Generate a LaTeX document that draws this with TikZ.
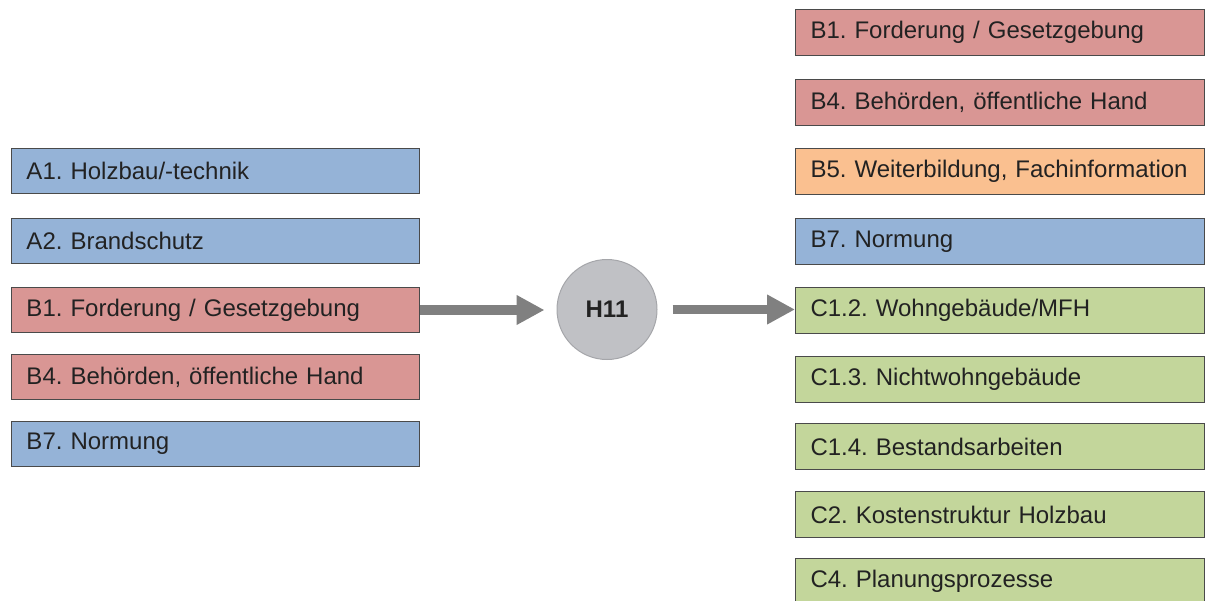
\documentclass[tikz,border=0pt]{standalone}
\usepackage{fontspec}
\setmainfont{Liberation Sans}
\usetikzlibrary{arrows.meta}
\frenchspacing
\definecolor{cblue}{HTML}{95B3D7}
\definecolor{cred}{HTML}{D99694}
\definecolor{corange}{HTML}{FAC090}
\definecolor{cgreen}{HTML}{C3D69B}
\definecolor{cborder}{HTML}{4A4A4A}
\definecolor{ctext}{HTML}{222222}
\definecolor{ccircle}{HTML}{C0C1C5}
\definecolor{ccircleb}{HTML}{A5A6AA}
\definecolor{carrow}{HTML}{808080}
\tikzset{
  box/.style={draw=cborder, line width=1pt, anchor=north west,
    text width=378pt, align=left, inner xsep=15pt, inner ysep=0pt,
    minimum height=45pt, font=\fontsize{24pt}{27pt}\selectfont, text=ctext},
  bluebox/.style={box, fill=cblue},
  redbox/.style={box, fill=cred},
  orangebox/.style={box, fill=corange},
  greenbox/.style={box, fill=cgreen},
  hub/.style={circle, draw=ccircleb, line width=1pt, fill=ccircle,
    minimum size=100pt, inner sep=0pt, font=\fontsize{24pt}{27pt}\selectfont\bfseries, text=ctext},
  flow/.style={draw=carrow, line width=9.5pt, -{Triangle[length=28pt,width=28pt]}}
}
\begin{document}
\begin{tikzpicture}[x=1pt,y=-1pt]
\useasboundingbox (0,0) rectangle (1205,600);
% left column
\node[bluebox] (a1) at (11,148) {A1. Holzbau/-technik};
\node[bluebox] (a2) at (11,218) {A2. Brandschutz};
\node[redbox]  (b1l) at (11,287) {B1. Forderung / Gesetzgebung};
\node[redbox]  (b4l) at (11,354) {B4. Behörden, öffentliche Hand};
\node[bluebox] (b7l) at (11,421) {B7. Normung};
% hub
\node[hub] (h) at (607,309.5) {H11};
% right column
\tikzset{rbox/.style={minimum height=46pt, text width=379pt}}
\node[redbox,rbox]    (b1r) at (795,9)   {B1. Forderung / Gesetzgebung};
\node[redbox,rbox]    (b4r) at (795,79)  {B4. Behörden, öffentliche Hand};
\node[orangebox,rbox] (b5r) at (795,148) {B5. Weiterbildung, Fachinformation};
\node[bluebox,rbox]   (b7r) at (795,218) {B7. Normung};
\node[greenbox,rbox]  (c12) at (795,287) {C1.2. Wohngebäude/MFH};
\node[greenbox,rbox]  (c13) at (795,356) {C1.3. Nichtwohngebäude};
\node[greenbox,rbox]  (c14) at (795,423) {C1.4. Bestandsarbeiten};
\node[greenbox,rbox]  (c2)  at (795,491) {C2. Kostenstruktur Holzbau};
\node[greenbox,rbox]  (c4)  at (795,558) {C4. Planungsprozesse};
% arrows
\draw[flow, shorten >=12pt] (b1l.east) -- (b1l.east -| h.west);
\draw[flow, shorten <=15pt] (h.east) -- (h.east -| c12.west);
\end{tikzpicture}
\end{document}
